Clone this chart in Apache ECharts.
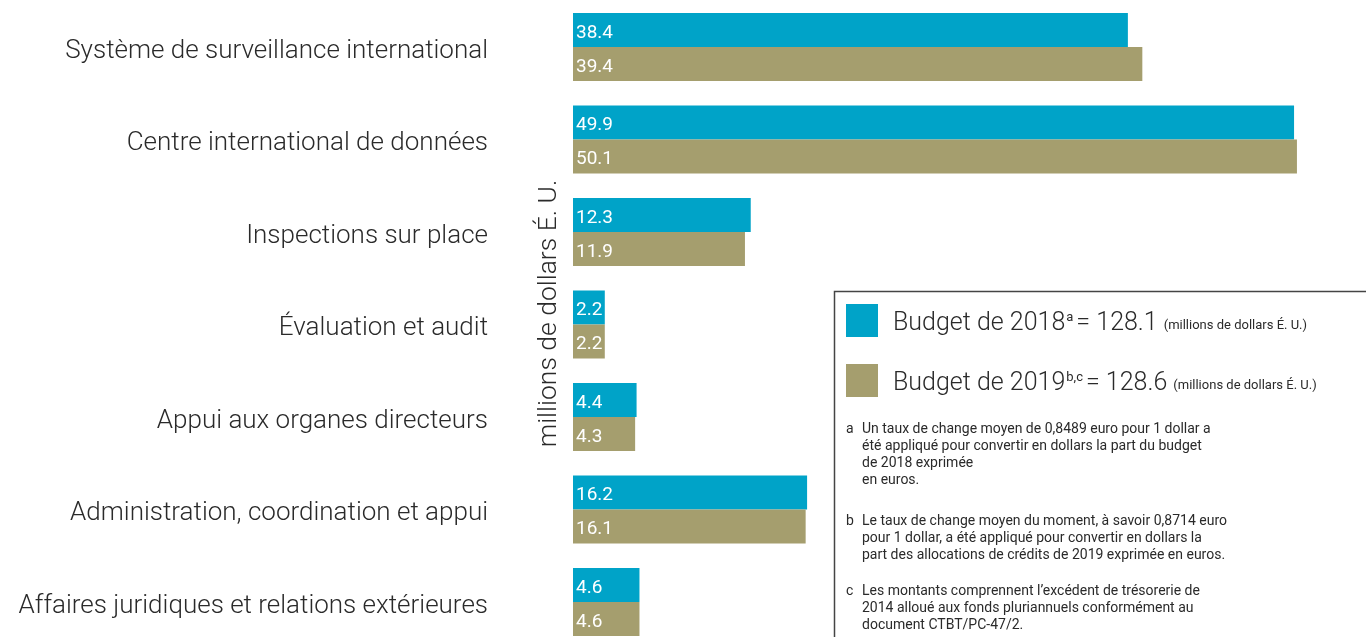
<!DOCTYPE html>
<html>
<head>
<meta charset="utf-8">
<script src="https://cdn.jsdelivr.net/npm/echarts@6/dist/echarts.min.js"></script>
<style>
html,body{margin:0;padding:0;background:#fff;}
#chart{width:1366px;height:637px;}
</style>
</head>
<body>
<div id="chart"></div>
<script>
const categories = [
  'Système de surveillance international',
  'Centre international de données',
  'Inspections sur place',
  'Évaluation et audit',
  'Appui aux organes directeurs',
  'Administration, coordination et appui',
  'Affaires juridiques et relations extérieures'
];
const budget2018 = [38.4, 49.9, 12.3, 2.2, 4.4, 16.2, 4.6];
const budget2019 = [39.4, 50.1, 11.9, 2.2, 4.3, 16.1, 4.6];
const seriesNames = ['Budget de 2018', 'Budget de 2019'];
const seriesSup = ['a', 'b,c'];
const seriesTotals = ['128.1', '128.6'];
const unitText = '(millions de dollars É. U.)';
const axisName = 'millions de dollars É. U.';
const notes = [
  ['a', 'Un taux de change moyen de 0,8489 euro pour 1 dollar a\nété appliqué pour convertir en dollars la part du budget\nde 2018 exprimée\nen euros.'],
  ['b', 'Le taux de change moyen du moment, à savoir 0,8714 euro\npour 1 dollar, a été appliqué pour convertir en dollars la\npart des allocations de crédits de 2019 exprimée en euros.'],
  ['c', 'Les montants comprennent l’excédent de trésorerie de\n2014 alloué aux fonds pluriannuels conformément au\ndocument CTBT/PC-47/2.']
];

const FONT = 'Roboto, "Noto Sans", sans-serif';
const TEAL = '#00a3c8';
const KHAKI = '#a59e6e';
const TEXT = '#2a2a2a';

const chart = echarts.init(document.getElementById('chart'), null, {renderer: 'canvas'});

const noteTops = [421, 513, 583];
const noteGraphics = [];
notes.forEach((n, i) => {
  noteGraphics.push({
    type: 'text', left: 846, top: noteTops[i],
    style: {text: n[0], font: '14px ' + FONT, fill: TEXT, lineHeight: 17}
  });
  noteGraphics.push({
    type: 'text', left: 862, top: noteTops[i],
    style: {text: n[1], font: '14px ' + FONT, fill: TEXT, lineHeight: 17}
  });
});

const labelOpt = {
  show: true, position: 'insideLeft', distance: 3, offset: [0, 3],
  color: '#fff', fontSize: 19, fontFamily: FONT
};

chart.setOption({
  animation: false,
  textStyle: {fontFamily: FONT},
  grid: {left: 573, top: 0.75, width: 780.3, height: 647.5, containLabel: false, outerBoundsMode: 'none'},
  xAxis: {type: 'value', min: 0, max: 54, show: false},
  yAxis: {
    type: 'category', data: categories, inverse: true,
    axisLine: {show: false}, axisTick: {show: false}, splitLine: {show: false},
    axisLabel: {
      margin: 85,
      formatter: function (v) { return '{c|' + v + '}'; },
      rich: {c: {fontSize: 26, color: TEXT, fontFamily: FONT, fontWeight: 300, padding: [8, 0, 0, 0]}}
    },
    name: axisName, nameLocation: 'middle', nameRotate: 90, nameGap: 10, nameMoveOverlap: false,
    nameTextStyle: {fontSize: 26.5, color: TEXT, fontFamily: FONT, fontWeight: 300, padding: [0, 0, 0, 22]}
  },
  legend: {
    orient: 'vertical', left: 846, top: 304, itemWidth: 32, itemHeight: 33, itemGap: 27,
    icon: 'rect', padding: 0,
    data: seriesNames,
    formatter: function (name) {
      const i = seriesNames.indexOf(name);
      return '{m|' + name + '}{s|' + seriesSup[i] + '}{m|= ' + seriesTotals[i] + '} {p|' + unitText + '}';
    },
    textStyle: {
      padding: [6, 0, 0, 10],
      rich: {
        m: {fontSize: 25, color: TEXT, fontFamily: FONT, fontWeight: 300},
        s: {fontSize: 13, color: TEXT, fontFamily: FONT, verticalAlign: 'top', padding: [0, 3, 10, 1]},
        p: {fontSize: 13, color: TEXT, fontFamily: FONT, padding: [5, 0, 0, 3]}
      }
    }
  },
  graphic: [
    {type: 'rect', left: 832, top: 289, shape: {width: 600, height: 400},
     style: {fill: 'none', stroke: '#444', lineWidth: 1.5}, z: 10},
    ...noteGraphics
  ],
  series: [
    {name: seriesNames[0], type: 'bar', data: budget2018, barWidth: 34, barGap: '0%',
     itemStyle: {color: TEAL}, label: labelOpt},
    {name: seriesNames[1], type: 'bar', data: budget2019, barWidth: 34, barGap: '0%',
     itemStyle: {color: KHAKI}, label: labelOpt}
  ]
});
</script>
</body>
</html>
